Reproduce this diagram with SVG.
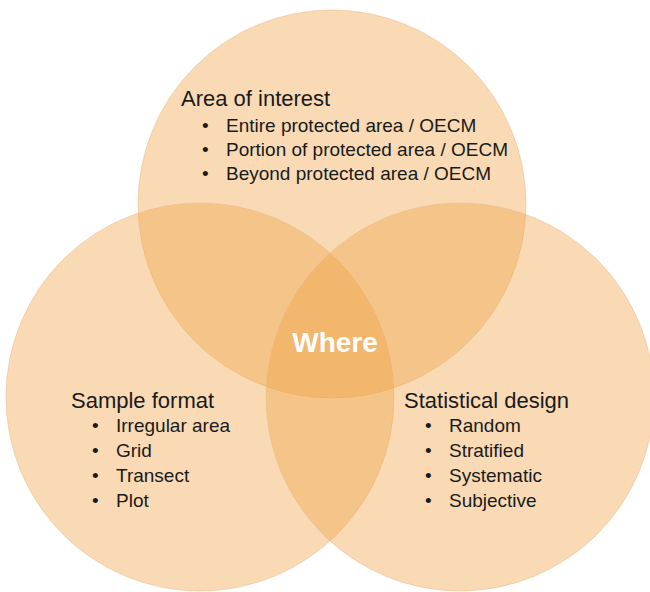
<svg xmlns="http://www.w3.org/2000/svg" width="650" height="592" viewBox="0 0 650 592">
<style>
.c{fill:#F0A347;fill-opacity:0.4;stroke:#E9B98A;stroke-opacity:0.5;stroke-width:1}
.h{font-family:"Liberation Sans",Arial,sans-serif;font-size:22px;fill:#1a1a1a}
.b{font-family:"Liberation Sans",Arial,sans-serif;font-size:19px;fill:#1a1a1a}
.d{font-family:"Liberation Sans",Arial,sans-serif;font-size:19px;fill:#1a1a1a}
.w{font-family:"Liberation Sans",Arial,sans-serif;font-size:28px;font-weight:bold;fill:#ffffff}
</style>
<rect width="650" height="592" fill="#ffffff"/>
<g id="area-of-interest">
<circle class="c" cx="332" cy="204" r="194"/>
</g>
<g id="sample-format">
<circle class="c" cx="200" cy="397" r="194"/>
</g>
<g id="statistical-design">
<circle class="c" cx="460" cy="397" r="194"/>
</g>
<g id="connectors"></g>
<g id="labels-top">
<text class="h" x="181" y="106">Area of interest</text>
<text class="d" x="202" y="132">•</text><text class="b" x="226" y="132">Entire protected area / OECM</text>
<text class="d" x="202" y="156">•</text><text class="b" x="226" y="156">Portion of protected area / OECM</text>
<text class="d" x="202" y="180">•</text><text class="b" x="226" y="180">Beyond protected area / OECM</text>
</g>
<g id="labels-left">
<text class="h" x="71" y="408">Sample format</text>
<text class="d" x="92" y="432">•</text><text class="b" x="116" y="432">Irregular area</text>
<text class="d" x="92" y="457">•</text><text class="b" x="116" y="457">Grid</text>
<text class="d" x="92" y="482">•</text><text class="b" x="116" y="482">Transect</text>
<text class="d" x="92" y="507">•</text><text class="b" x="116" y="507">Plot</text>
</g>
<g id="labels-right">
<text class="h" x="404" y="408">Statistical design</text>
<text class="d" x="425" y="432">•</text><text class="b" x="449" y="432">Random</text>
<text class="d" x="425" y="457">•</text><text class="b" x="449" y="457">Stratified</text>
<text class="d" x="425" y="482">•</text><text class="b" x="449" y="482">Systematic</text>
<text class="d" x="425" y="507">•</text><text class="b" x="449" y="507">Subjective</text>
</g>
<g id="center">
<text class="w" x="335" y="352" text-anchor="middle">Where</text>
</g>
</svg>
